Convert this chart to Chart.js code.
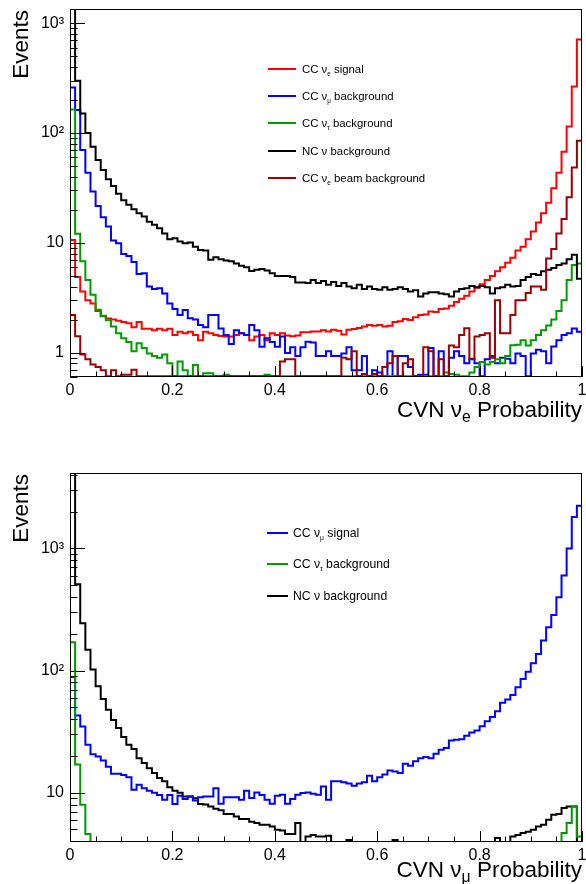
<!DOCTYPE html>
<html>
<head>
<meta charset="utf-8">
<script src="https://cdn.jsdelivr.net/npm/chart.js@4.4.1/dist/chart.umd.min.js"></script>
<style>
body { margin: 0; background: #fff; }
.panel { position: absolute; left: 0; width: 586px; height: 442px; }
</style>
</head>
<body>
<div class="panel" style="top:0"><canvas id="chart1" width="586" height="442"></canvas></div>
<div class="panel" style="top:442px"><canvas id="chart2" width="586" height="442"></canvas></div>
<script>
// histogrammes CVN : 100 bins entre 0 et 1
const nBins = 100;
const binEdges = [];
for (let k = 0; k <= nBins; k++) binEdges.push(k / nBins);

const xTickValues = [0, 0.2, 0.4, 0.6, 0.8, 1];
const xTickLabels = ['0', '0.2', '0.4', '0.6', '0.8', '1'];

// panneau du haut : CVN nu_e
const yRange1 = [0.61, 1350];
const yDecades1 = [1, 10, 100, 1000];
const yDecadeLabels1 = ['1', '10', '10²', '10³'];

const nueSignal = [
  10.6, 4.9, 3.6, 3.0, 2.8, 2.4, 2.15, 2.05, 2.0, 1.95,
  1.9, 1.85, 1.7, 1.9, 1.65, 1.65, 1.6, 1.65, 1.6, 1.65,
  1.45, 1.55, 1.5, 1.55, 1.45, 1.3, 1.55, 1.5, 1.45, 1.42,
  1.4, 1.4, 1.45, 1.5, 1.45, 1.3, 1.4, 1.45, 1.3, 1.5,
  1.45, 1.5, 1.43, 1.41, 1.43, 1.53, 1.53, 1.56, 1.56, 1.6,
  1.56, 1.62, 1.58, 1.46, 1.62, 1.64, 1.68, 1.73, 1.79, 1.76,
  1.79, 1.73, 1.76, 1.9, 1.93, 2.03, 1.98, 2.1, 2.2, 2.22,
  2.37, 2.34, 2.5, 2.53, 2.67, 2.9, 3.1, 3.3, 3.6, 3.9,
  4.2, 4.6, 5.0, 5.5, 6.0, 6.6, 7.3, 8.5, 9.2, 10.8,
  12.7, 15.3, 18.6, 23.2, 31.4, 43.6, 67.5, 115, 265, 712
];
const numuBkg = [
  260, 162, 70, 43.6, 29.3, 21.7, 17.1, 14.1, 10.5, 9.9,
  7.9, 7.6, 6.7, 5.2, 5.3, 4.0, 3.8, 3.85, 3.45, 2.8,
  2.5, 2.2, 2.45, 2.06, 2.0, 1.79, 1.7, 2.2, 2.2, 1.66,
  1.45, 1.2, 1.6, 1.5, 1.45, 1.79, 1.6, 1.13, 1.35, 1.25,
  1.13, 1.4, 0.99, 1.12, 0.93, 1.12, 1.26, 1.24, 0.93, 0.93,
  1.03, 0.93, 0.93, 0.98, 1.12, 0.69, 0.69, 0.93, 0, 0.69,
  0.66, 0, 1.03, 0, 0.93, 0.93, 0.74, 0, 0.63, 0.63,
  1.1, 0, 1.03, 0, 0.9, 1.03, 0.93, 0.8, 0.87, 0.8,
  0, 0.87, 0.93, 0.8, 0.9, 0.88, 0.8, 0.98, 0.93, 0,
  0.98, 1.06, 1.03, 0.8, 1.14, 1.3, 1.45, 1.5, 1.66, 1.55
];
const nutauBkg = [
  164, 12.1, 6.8, 4.6, 3.37, 2.46, 2.17, 1.97, 1.73, 1.5,
  1.35, 1.25, 1.03, 1.22, 1.1, 0.98, 0.93, 0.9, 0.96, 0.8,
  0, 0.83, 0.69, 0, 0.77, 0, 0.65, 0.65, 0, 0,
  0.63, 0, 0, 0, 0, 0, 0, 0, 0.63, 0,
  0, 0, 0, 0, 0, 0, 0, 0, 0, 0,
  0, 0, 0, 0, 0, 0, 0, 0, 0, 0,
  0, 0, 0, 0, 0, 0, 0, 0, 0, 0,
  0, 0, 0, 0.66, 0.64, 0.63, 0, 0, 0.66, 0.74,
  0.82, 0.78, 0.82, 0.87, 0.8, 0.93, 1.17, 1.18, 1.3, 1.16,
  1.3, 1.45, 1.6, 1.77, 2.0, 2.4, 3.0, 4.6, 6.3, 6.5
];
const ncBkg = [
  1500, 300, 151, 100, 75, 57, 46, 38, 33, 28,
  24.5, 22.2, 20.2, 18.6, 17.4, 15.6, 14.6, 13.6, 12.2, 10.8,
  11.0, 10.3, 9.9, 10.1, 9.2, 8.6, 8.5, 7.0, 7.4, 7.1,
  6.9, 6.8, 6.5, 6.2, 6.0, 5.55, 5.7, 5.77, 5.6, 5.3,
  5.0, 5.0, 5.0, 4.9, 4.36, 4.36, 4.3, 4.6, 4.3, 4.5,
  4.15, 4.4, 4.05, 4.3, 4.0, 3.87, 4.15, 3.8, 4.0, 3.8,
  3.74, 3.95, 3.74, 3.8, 3.95, 3.8, 3.6, 3.7, 3.25, 3.45,
  3.55, 3.55, 3.45, 3.4, 3.25, 3.6, 3.8, 3.87, 4.05, 3.95,
  4.05, 3.95, 3.45, 3.87, 3.95, 4.15, 4.0, 4.05, 4.6, 4.9,
  5.2, 5.1, 5.5, 5.7, 5.9, 6.3, 6.5, 7.1, 7.8, 4.7
];
const beamBkg = [
  2.2, 1.41, 0.96, 0.87, 0.78, 0.74, 0.69, 0, 0.69, 0,
  0.63, 0.63, 0.7, 0, 0, 0, 0, 0, 0, 0,
  0, 0, 0, 0, 0, 0, 0, 0, 0, 0,
  0, 0, 0, 0, 0, 0, 0, 0, 0, 0,
  0, 0.83, 0.87, 0.87, 0, 0, 0, 0, 0, 0,
  0, 0, 0, 0.9, 0.87, 1.03, 0, 0.64, 0, 0.64,
  0, 0.74, 0.8, 0.93, 0, 0.8, 0.87, 0, 0, 1.12,
  1.03, 0, 0.87, 0, 1.16, 1.12, 1.45, 1.67, 0.88, 1.4,
  1.45, 1.5, 0.9, 3.0, 1.5, 1.5, 2.2, 3.0, 3.0, 3.5,
  4.0, 4.0, 3.74, 7.2, 8.8, 12.2, 16.5, 26, 48.6, 85
];

// panneau du bas : CVN nu_mu
const yRange2 = [3.95, 4150];
const yDecades2 = [10, 100, 1000];
const yDecadeLabels2 = ['10', '10²', '10³'];

const numuSignal = [
  88.7, 42.8, 34.9, 24.7, 20.7, 19.8, 18.4, 16.3, 14.3, 14.3,
  14.0, 13.4, 10.6, 11.6, 10.9, 10.4, 10.0, 9.6, 8.76, 9.6,
  8.1, 9.45, 8.9, 9.3, 8.65, 9.2, 9.3, 9.3, 10.9, 8.13,
  9.2, 9.2, 9.2, 8.76, 10.4, 9.05, 10.06, 9.6, 8.76, 8.13,
  9.45, 9.63, 8.13, 8.87, 9.63, 9.94, 10.05, 9.8, 9.63, 11.27,
  8.76, 12.4, 12.4, 12.2, 11.9, 11.4, 11.9, 12.2, 13.8, 12.4,
  13.4, 14.1, 15.2, 14.9, 14.5, 17.3, 16.6, 18.1, 19.2, 19.6,
  19.2, 20.9, 22.5, 23.2, 26.8, 27.1, 27.4, 29.3, 31.2, 32.3,
  35.0, 38.5, 41.7, 46.5, 54.6, 58, 63, 73, 85.5, 98,
  115, 137, 176, 226, 285, 398, 600, 1000, 1810, 2240
];
const nutauBkg2 = [
  171, 17, 7.97, 4.6, 0, 0, 0, 0, 0, 0,
  0, 0, 0, 0, 0, 0, 0, 0, 0, 0,
  0, 0, 0, 0, 0, 0, 0, 0, 0, 0,
  0, 0, 0, 0, 0, 0, 0, 0, 0, 0,
  0, 0, 0, 0, 0, 0, 0, 0, 0, 0,
  0, 0, 0, 0, 0, 0, 0, 0, 0, 0,
  0, 0, 0, 0, 0, 0, 0, 0, 0, 0,
  0, 0, 0, 0, 0, 0, 0, 0, 0, 0,
  0, 0, 0, 0, 0, 0, 0, 0, 0, 0,
  0, 0, 0, 0, 0, 0, 4.67, 5.65, 7.7, 4.39
];
const ncBkg2 = [
  4500, 510, 244, 148, 102, 74.4, 58.6, 47.9, 39.4, 33.9,
  28.6, 24.7, 22.8, 19.2, 17.5, 15.9, 14.5, 13.2, 12.4, 11.1,
  10.4, 10.0, 9.3, 9.3, 9.0, 8.1, 8.0, 7.7, 7.4, 7.2,
  6.7, 6.7, 6.4, 6.1, 6.1, 5.8, 5.65, 5.47, 5.47, 5.3,
  4.97, 4.9, 4.6, 4.6, 5.65, 0, 4.39, 4.5, 4.39, 4.39,
  4.45, 0, 0, 0, 4.1, 0, 0, 0, 0, 0,
  0, 0, 0, 4.1, 0, 0, 0, 0, 0, 0,
  0, 0, 0, 0, 0, 0, 0, 0, 0, 0,
  0, 0, 0, 4.25, 0, 0, 4.39, 4.5, 4.67, 4.8,
  4.97, 5.3, 5.47, 6.0, 6.6, 6.7, 7.5, 7.7, 7.7, 0
];

const FONT = '"Liberation Sans", Arial, Helvetica, sans-serif';

// texte avec indices : [normal, indice, normal, ...]
function richText(ctx, parts, x, y, size, subRatio, align) {
  const subSize = size * subRatio;
  const widths = parts.map(function(p, i) {
    ctx.font = ((i % 2) ? subSize : size) + 'px ' + FONT;
    return ctx.measureText(p).width;
  });
  const total = widths.reduce(function(s, w) { return s + w; }, 0);
  let cx = (align === 'right') ? x - total : x;
  ctx.textAlign = 'left';
  ctx.textBaseline = 'alphabetic';
  parts.forEach(function(p, i) {
    ctx.font = ((i % 2) ? subSize : size) + 'px ' + FONT;
    ctx.fillText(p, cx, (i % 2) ? y + size * 0.22 : y);
    cx += widths[i];
  });
}

// cadre, ticks, legende et titres facon ROOT
const rootStyle = {
  id: 'rootStyle',
  afterDraw(chart, args, opts) {
    const ctx = chart.ctx;
    const a = chart.chartArea;
    const xs = chart.scales.x, ys = chart.scales.y;
    ctx.save();
    ctx.strokeStyle = '#000';
    ctx.lineWidth = 1;
    ctx.strokeRect(a.left + 0.5, a.top + 0.5, a.right - a.left - 1, a.bottom - a.top - 1);

    ctx.beginPath();
    for (let i = 0; i <= 20; i++) {
      const px = Math.round(xs.getPixelForValue(i / 20)) + 0.5;
      const len = (i % 4 === 0) ? 11 : 5.5;
      ctx.moveTo(px, a.bottom);
      ctx.lineTo(px, a.bottom - len);
    }
    for (let d = -1; d <= 3; d++) {
      for (let m = 1; m <= 9; m++) {
        const v = m * Math.pow(10, d);
        if (v < ys.min || v > ys.max) continue;
        const py = Math.round(ys.getPixelForValue(v)) + 0.5;
        ctx.moveTo(a.left, py);
        ctx.lineTo(a.left + (m === 1 ? 15 : 7.5), py);
      }
    }
    ctx.stroke();

    // legende
    ctx.fillStyle = '#000';
    opts.legend.forEach(function(item, i) {
      const ly = opts.legendY[i];
      ctx.strokeStyle = item.color;
      ctx.lineWidth = 2;
      ctx.beginPath();
      ctx.moveTo(opts.legendX[0], ly);
      ctx.lineTo(opts.legendX[1], ly);
      ctx.stroke();
      richText(ctx, item.text, opts.legendX[2], ly + opts.legendSize * 0.36, opts.legendSize, 0.55, 'left');
    });

    // titre axe x
    ctx.fillStyle = '#000';
    richText(ctx, opts.xTitle, a.right, opts.xTitleY, 22.5, 0.7, 'right');

    // titre axe y
    ctx.save();
    ctx.translate(28, a.top + 1);
    ctx.rotate(-Math.PI / 2);
    ctx.font = '22.5px ' + FONT;
    ctx.textAlign = 'right';
    ctx.textBaseline = 'alphabetic';
    ctx.fillText('Events', 0, 0);
    ctx.restore();
    ctx.restore();
  }
};

function histPoints(values, ymin) {
  const pts = [{ x: binEdges[0], y: ymin }];
  values.forEach(function(v, k) { pts.push({ x: binEdges[k], y: Math.max(v, ymin) }); });
  pts.push({ x: binEdges[values.length], y: Math.max(values[values.length - 1], ymin) });
  return pts;
}

function buildChart(id, series, yRange, decades, decadeLabels, xAxisHeight, padTop, deco) {
  const ctx = document.getElementById(id).getContext('2d');
  return new Chart(ctx, {
    type: 'line',
    data: {
      datasets: series.map(function(s) {
        return {
          label: s.label,
          data: histPoints(s.values, yRange[0]),
          borderColor: s.color,
          borderWidth: 2,
          pointRadius: 0,
          stepped: 'before',
          fill: false,
          order: s.order
        };
      })
    },
    options: {
      responsive: false,
      animation: false,
      layout: { padding: { top: padTop, right: 4, left: 0, bottom: 0 } },
      plugins: {
        legend: { display: false },
        tooltip: { enabled: false },
        rootStyle: deco
      },
      scales: {
        x: {
          type: 'linear',
          min: 0,
          max: 1,
          grid: { display: false, drawTicks: false },
          border: { display: false },
          ticks: {
            stepSize: 0.2,
            padding: 4,
            color: '#000',
            font: { family: FONT, size: 16 },
            maxRotation: 0,
            callback: function(value) {
              const i = xTickValues.findIndex(function(t) { return Math.abs(t - value) < 1e-6; });
              return i >= 0 ? xTickLabels[i] : '';
            }
          },
          afterFit: function(s) { s.height = xAxisHeight; s.paddingLeft = 0; s.paddingRight = 0; }
        },
        y: {
          type: 'logarithmic',
          min: yRange[0],
          max: yRange[1],
          grid: { display: false, drawTicks: false },
          border: { display: false },
          ticks: {
            autoSkip: false,
            padding: 6,
            color: '#000',
            font: { family: FONT, size: 16 },
            callback: function(value) {
              const i = decades.findIndex(function(d) { return Math.abs(d - value) / d < 1e-6; });
              return i >= 0 ? decadeLabels[i] : '';
            }
          },
          afterFit: function(s) { s.width = 70; s.paddingTop = 0; s.paddingBottom = 0; }
        }
      }
    },
    plugins: [rootStyle]
  });
}

// panneau nu_e
const chart1 = buildChart('chart1', [
  { label: 'CC nue signal', values: nueSignal, color: '#ff0000', order: 4 },
  { label: 'CC numu background', values: numuBkg, color: '#0000ff', order: 3 },
  { label: 'CC nutau background', values: nutauBkg, color: '#009900', order: 2 },
  { label: 'NC nu background', values: ncBkg, color: '#000000', order: 1 },
  { label: 'CC nue beam background', values: beamBkg, color: '#990000', order: 0 }
], yRange1, yDecades1, yDecadeLabels1, 65, 9, {
  legend: [
    { color: '#ff0000', text: ['CC ν', 'e', ' signal'] },
    { color: '#0000ff', text: ['CC ν', 'μ', ' background'] },
    { color: '#009900', text: ['CC ν', 'τ', ' background'] },
    { color: '#000000', text: ['NC ν background'] },
    { color: '#990000', text: ['CC ν', 'e', ' beam background'] }
  ],
  legendY: [69, 96, 123, 151, 178],
  legendX: [268, 296, 302],
  legendSize: 11.4,
  xTitle: ['CVN ν', 'e', ' Probability'],
  xTitleY: 417
});

// panneau nu_mu
const chart2 = buildChart('chart2', [
  { label: 'CC numu signal', values: numuSignal, color: '#0000ff', order: 1 },
  { label: 'CC nutau background', values: nutauBkg2, color: '#009900', order: 0 },
  { label: 'NC nu background', values: ncBkg2, color: '#000000', order: 2 }
], yRange2, yDecades2, yDecadeLabels2, 42, 31, {
  legend: [
    { color: '#0000ff', text: ['CC ν', 'μ', ' signal'] },
    { color: '#009900', text: ['CC ν', 'τ', ' background'] },
    { color: '#000000', text: ['NC ν background'] }
  ],
  legendY: [91, 122, 154],
  legendX: [267, 288, 293],
  legendSize: 12.2,
  xTitle: ['CVN ν', 'μ', ' Probability'],
  xTitleY: 435
});
</script>
</body>
</html>
